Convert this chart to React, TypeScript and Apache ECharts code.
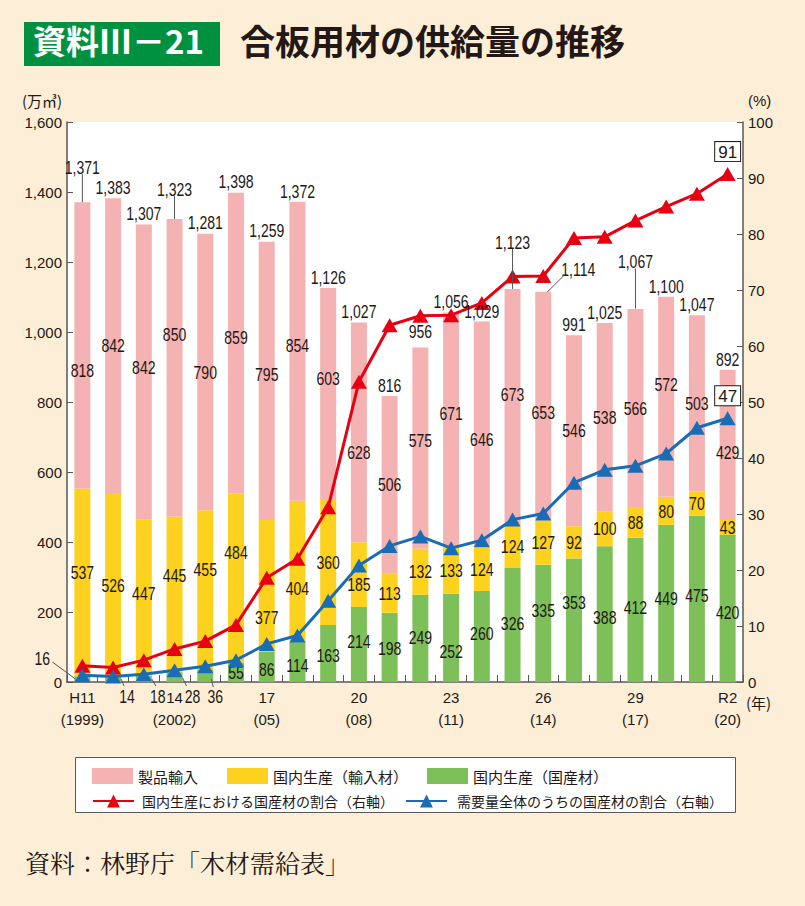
import React, { useEffect, useRef } from "react";
import * as echarts from "echarts";

// ---------- data ----------
const categories = [
  "1999", "2000", "2001", "2002", "2003", "2004", "2005", "2006", "2007", "2008", "2009",
  "2010", "2011", "2012", "2013", "2014", "2015", "2016", "2017", "2018", "2019", "2020",
];
const xTickLabels = [
  "H11\n(1999)", "", "", "14\n(2002)", "", "", "17\n(05)", "", "", "20\n(08)", "", "",
  "23\n(11)", "", "", "26\n(14)", "", "", "29\n(17)", "", "", "R2\n(20)",
];
const productImports = [818, 842, 842, 850, 790, 859, 795, 854, 603, 628, 506, 575, 671, 646, 673, 653, 546, 538, 566, 572, 503, 429];
const domesticImported = [537, 526, 447, 445, 455, 484, 377, 404, 360, 185, 113, 132, 133, 124, 124, 127, 92, 100, 88, 80, 70, 43];
const domesticDomestic = [16, 14, 18, 28, 36, 55, 86, 114, 163, 214, 198, 249, 252, 260, 326, 335, 353, 388, 412, 449, 475, 420];
const totals = [1371, 1383, 1307, 1323, 1281, 1398, 1259, 1372, 1126, 1027, 816, 956, 1056, 1029, 1123, 1114, 991, 1025, 1067, 1100, 1047, 892];
const shareInProduction = [2.9, 2.6, 3.9, 5.9, 7.3, 10.2, 18.6, 22.0, 31.2, 53.6, 63.7, 65.4, 65.5, 67.7, 72.4, 72.5, 79.3, 79.5, 82.4, 84.9, 87.2, 90.7];
const shareInDemand = [1.2, 1.0, 1.4, 2.1, 2.8, 3.9, 6.8, 8.3, 14.5, 20.8, 24.3, 26.0, 23.9, 25.3, 29.0, 30.1, 35.6, 37.9, 38.6, 40.8, 45.4, 47.1];

const seriesNames = {
  pink: "製品輸入",
  yellow: "国内生産（輸入材）",
  green: "国内生産（国産材）",
  red: "国内生産における国産材の割合（右軸）",
  blue: "需要量全体のうちの国産材の割合（右軸）",
};

// ---------- label layout (pixel nudges, kept apart from data) ----------
const pinkLabelDy = [25, 0, -5, -33, 0, -6, -7, -6, -15, 20, 0, -8, -17, 5, -12, 6, 0, 0, 0, -12, 0, 7];
const yellowLabelDy = [-10, 0, -4, -19, -20, -26, 31, 17, 0, 10, 0, 0, 0, 0, 0, 0, 0, 0, 0, 0, 0, 0];
const greenLabelDy = [0, 0, 0, 0, 0, 0, 2, 3, 2, -3, 1, -1, 13, -3, -2, -13, -18, 3, -3, -5, -4, 4];
const totalLabelLift = [24, 0, 0, 19, 0, 0, 0, 0, 0, 0, 0, 5, 0, 0, 36, 12, 0, 0, 36, 0, 0, 0];
const totalLabelDx = [0, 0, 0, 0, 0, 0, 0, 0, 0, 0, 0, 0, 0, 0, 0, 35, 0, 0, 0, 0, 0, 0];
const totalLeader = [true, false, false, true, false, false, false, false, false, false, false, false, false, false, true, true, false, false, true, false, false, false];
const smallGreenCount = 5;
const smallGreenCallouts = [
  { dx: -40, dy: -24, x1: -30, y1: -20, x2: -7, y2: -3 },
  { dx: 14, dy: 14, x1: 8, y1: -3, x2: 11, y2: 4 },
  { dx: 14, dy: 14, x1: 8, y1: -3, x2: 12, y2: 4 },
  { dx: 18, dy: 14, x1: 8, y1: -4, x2: 12, y2: 4 },
  { dx: 10, dy: 14, x1: 6, y1: -3, x2: 8, y2: 5 },
];

const NUM_FONT = "'Liberation Sans','Roboto','Noto Sans CJK JP',sans-serif";
const JP_FONT = "'Noto Sans CJK JP','Noto Sans',sans-serif";
const SERIF_FONT = "'Noto Serif CJK JP','Noto Serif JP','Noto Sans CJK JP',serif";
const TEXT = "#231815";
const AXIS = "#595757";
const PINK = "#f5b2b3";
const YELLOW = "#fdd21e";
const GREEN = "#7dc05a";
const RED = "#e60012";
const BLUE = "#1a6db5";
const BG = "#fdefd7";
const NARROW = 0.78;
const VALUE_SIZE = 18;

const fmt = (v: number) => String(v).replace(/\B(?=(\d{3})+(?!\d))/g, ",");

const narrowText = (text: string, x: number, y: number, va: string = "middle") => ({
  type: "text",
  x,
  y,
  scaleX: NARROW,
  style: {
    text, x: 0, y: 0, align: "center", verticalAlign: va,
    fill: TEXT, fontSize: VALUE_SIZE, fontFamily: NUM_FONT,
  },
});

export default function App() {
  const ref = useRef<HTMLDivElement>(null);

  useEffect(() => {
    document.body.style.margin = "0";
    if (!ref.current) return;
    const chart = echarts.init(ref.current, undefined, { renderer: "svg" });

    const legendText = { fontFamily: JP_FONT, fontSize: 15, color: TEXT };
    const legendText2 = { fontFamily: JP_FONT, fontSize: 14, color: TEXT };
    const boxLabel = {
      show: true, position: "top", distance: 6, formatter: (p: any) => String(Math.round(p.value)),
      backgroundColor: "#fff", borderColor: TEXT, borderWidth: 1, padding: [2, 3, 0, 3],
      color: TEXT, fontSize: 17, fontFamily: NUM_FONT,
    };

    const option: any = {
      animation: false,
      backgroundColor: BG,
      textStyle: { fontFamily: NUM_FONT },
      grid: { left: 67, right: 62, top: 122, bottom: 224, show: true, backgroundColor: "#ffffff", borderWidth: 0 },
      legend: [
        { left: 87, top: 763, itemWidth: 41, itemHeight: 16, icon: "rect", data: [seriesNames.pink], textStyle: legendText, selectedMode: false },
        { left: 222, top: 763, itemWidth: 41, itemHeight: 16, icon: "rect", data: [seriesNames.yellow], textStyle: legendText, selectedMode: false },
        { left: 422, top: 763, itemWidth: 41, itemHeight: 16, icon: "rect", data: [seriesNames.green], textStyle: legendText, selectedMode: false },
        { left: 87, top: 789, itemWidth: 41, itemHeight: 16, data: [seriesNames.red], textStyle: { ...legendText2, padding: [0, 0, 0, 3] }, selectedMode: false },
        { left: 400, top: 789, itemWidth: 41, itemHeight: 16, data: [seriesNames.blue], textStyle: { ...legendText2, padding: [0, 0, 0, 5] }, selectedMode: false },
      ],
      xAxis: {
        type: "category",
        data: categories,
        boundaryGap: true,
        axisLine: { lineStyle: { color: AXIS, width: 1.5 } },
        axisTick: { show: true, inside: true, length: 7, interval: 0, lineStyle: { color: AXIS } },
        axisLabel: {
          interval: 0,
          formatter: (_v: string, i: number) => xTickLabels[i],
          color: TEXT, fontSize: 15, lineHeight: 22, margin: 4, fontFamily: NUM_FONT,
        },
      },
      yAxis: [
        {
          type: "value", min: 0, max: 1600, interval: 200,
          axisLine: { show: true, lineStyle: { color: AXIS, width: 1.5 } },
          axisTick: { show: true, inside: true, length: 6, lineStyle: { color: AXIS } },
          splitLine: { show: false },
          axisLabel: { formatter: (v: number) => fmt(v), color: TEXT, fontSize: 15, margin: 5, fontFamily: NUM_FONT },
        },
        {
          type: "value", min: 0, max: 100, interval: 10, position: "right",
          axisLine: { show: true, lineStyle: { color: AXIS, width: 1.5 } },
          axisTick: { show: true, inside: true, length: 6, lineStyle: { color: AXIS } },
          splitLine: { show: false },
          axisLabel: { color: TEXT, fontSize: 15, margin: 5, fontFamily: NUM_FONT },
        },
      ],
      series: [
        {
          name: seriesNames.green, type: "bar", stack: "supply", barWidth: 16,
          itemStyle: { color: GREEN }, data: domesticDomestic,
        },
        {
          name: seriesNames.yellow, type: "bar", stack: "supply", barWidth: 16,
          itemStyle: { color: YELLOW }, data: domesticImported,
        },
        {
          name: seriesNames.pink, type: "bar", stack: "supply", barWidth: 16,
          itemStyle: { color: PINK }, data: productImports,
        },
        {
          name: "segmentLabels", type: "custom", z: 3, silent: true,
          data: categories.map((_c, i) => [i, domesticDomestic[i], domesticImported[i], productImports[i]]),
          encode: { x: 0, y: 1 },
          renderItem: (_p: any, api: any) => {
            const i = api.value(0);
            const g = api.value(1);
            const y = api.value(2);
            const p = api.value(3);
            const children: any[] = [];
            if (i >= smallGreenCount) {
              const pg = api.coord([i, g / 2]);
              children.push(narrowText(String(g), pg[0], pg[1] + greenLabelDy[i]));
            }
            const py = api.coord([i, g + y / 2]);
            children.push(narrowText(String(y), py[0], py[1] + yellowLabelDy[i]));
            const pp = api.coord([i, g + y + p / 2]);
            children.push(narrowText(String(p), pp[0], pp[1] + pinkLabelDy[i]));
            return { type: "group", children };
          },
        },
        {
          name: "totals", type: "custom", z: 5, silent: true,
          data: totals.map((v, i) => [i, v]),
          encode: { x: 0, y: 1 },
          renderItem: (_p: any, api: any) => {
            const i = api.value(0);
            const v = api.value(1);
            const pt = api.coord([i, v]);
            const ty = pt[1] - 2 - totalLabelLift[i];
            const tx = pt[0] + totalLabelDx[i];
            const children: any[] = [narrowText(fmt(v), tx, ty, "bottom")];
            if (totalLeader[i]) {
              const dx = totalLabelDx[i];
              children.push({
                type: "line",
                shape: dx === 0
                  ? { x1: pt[0], y1: pt[1], x2: pt[0], y2: ty - 2 }
                  : { x1: pt[0] + 4, y1: pt[1], x2: tx - 14, y2: ty - 3 },
                style: { stroke: "#555", lineWidth: 1 },
              });
            }
            return { type: "group", children };
          },
        },
        {
          name: "smallGreen", type: "custom", z: 5, silent: true,
          data: domesticDomestic.slice(0, smallGreenCount).map((v, i) => [i, v]),
          encode: { x: 0, y: 1 },
          renderItem: (_p: any, api: any) => {
            const i = api.value(0);
            const v = api.value(1);
            const base = api.coord([i, 0]);
            const c = smallGreenCallouts[i];
            return {
              type: "group",
              children: [
                {
                  type: "line",
                  shape: { x1: base[0] + c.x1, y1: base[1] + c.y1, x2: base[0] + c.x2, y2: base[1] + c.y2 },
                  style: { stroke: "#555", lineWidth: 1 },
                },
                narrowText(String(v), base[0] + c.dx, base[1] + c.dy),
              ],
            };
          },
        },
        {
          name: seriesNames.red, type: "line", yAxisIndex: 1, z: 4,
          symbol: "triangle", symbolSize: [16, 14],
          lineStyle: { color: RED, width: 3 },
          itemStyle: { color: RED },
          data: shareInProduction.map((v, i) => (i === shareInProduction.length - 1 ? { value: v, label: boxLabel } : v)),
        },
        {
          name: seriesNames.blue, type: "line", yAxisIndex: 1, z: 4,
          symbol: "triangle", symbolSize: [16, 14],
          lineStyle: { color: BLUE, width: 3 },
          itemStyle: { color: BLUE },
          data: shareInDemand.map((v, i) => (i === shareInDemand.length - 1 ? { value: v, label: boxLabel } : v)),
        },
      ],
      graphic: [
        { type: "rect", left: 24, top: 22, shape: { width: 196, height: 44 }, style: { fill: "#009140" }, z: 1 },
        {
          type: "text", left: 33, top: 23, z: 2,
          style: { text: "資料Ⅲ－21", fill: "#fff", fontSize: 33, fontWeight: "bold", fontFamily: JP_FONT },
        },
        {
          type: "text", left: 240, top: 22, z: 2,
          style: { text: "合板用材の供給量の推移", fill: TEXT, fontSize: 35, fontWeight: "bold", fontFamily: JP_FONT },
        },
        {
          type: "text", left: 22, top: 93, z: 2,
          style: { text: "(万㎥)", fill: TEXT, fontSize: 15, fontFamily: JP_FONT },
        },
        {
          type: "text", left: 748, top: 93, z: 2,
          style: { text: "(%)", fill: TEXT, fontSize: 15, fontFamily: NUM_FONT },
        },
        {
          type: "text", left: 746, top: 695, z: 2,
          style: { text: "(年)", fill: TEXT, fontSize: 15, fontFamily: JP_FONT },
        },
        {
          type: "rect", left: 75, top: 757, shape: { width: 660, height: 55 }, z: 0,
          style: { fill: "#fff", stroke: AXIS, lineWidth: 1 },
        },
        {
          type: "text", left: 25, top: 849, z: 2,
          style: { text: "資料：林野庁「木材需給表」", fill: TEXT, fontSize: 25, fontFamily: SERIF_FONT },
        },
      ],
    };

    chart.setOption(option);
    return () => chart.dispose();
  }, []);

  return <div ref={ref} style={{ width: 805, height: 906 }} />;
}
